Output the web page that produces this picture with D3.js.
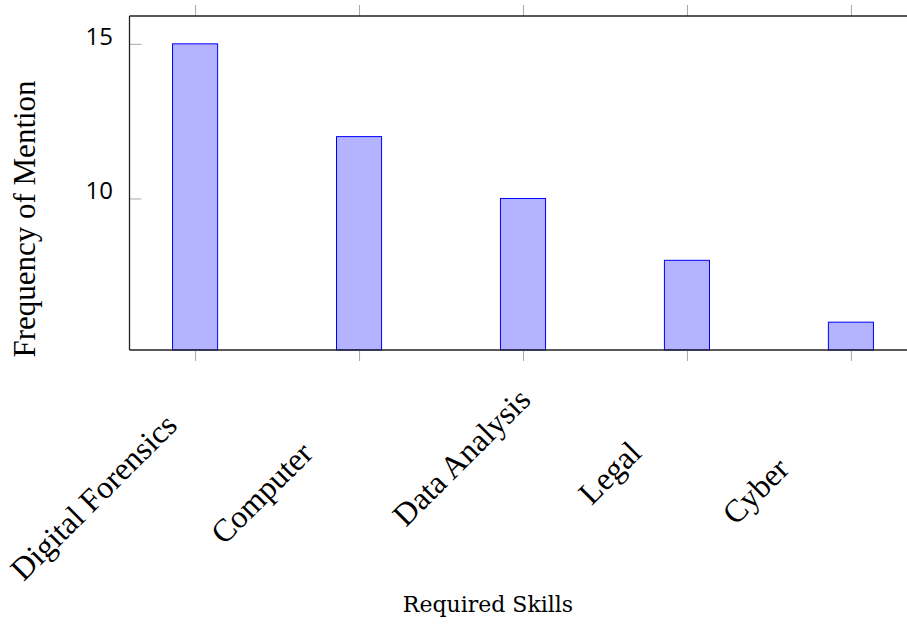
<!DOCTYPE html>
<html>
<head>
<meta charset="utf-8">
<script src="https://cdn.jsdelivr.net/npm/d3@7"></script>
<style>
  html, body { margin: 0; padding: 0; background: #fff; }
  svg { display: block; }
  .serif { font-family: "Liberation Serif", Tinos, "Times New Roman", Times, serif; }
  .title-serif { font-family: "DejaVu Serif", serif; }
  .num { font-family: "Open Sans", "Noto Sans", sans-serif; }
</style>
</head>
<body>
<svg id="chart" width="907" height="626"></svg>
<script>
// Skills named in the job postings and how often each was mentioned
const skills = ["Digital Forensics", "Computer", "Data Analysis", "Legal", "Cyber"];
const mentions = [15, 12, 10, 8, 6];
const yTickValues = [10, 15];
const xAxisTitle = "Required Skills";
const yAxisTitle = "Frequency of Mention";

// Layout
const W = 907, H = 626;
const plot = { left: 129.5, right: 916.5, top: 16, bottom: 350 };
// per-label slide along the rotated baseline
const labelSlide = [-66, -106, -30, -105, -128];

const svg = d3.select("#chart");

const x = d3.scalePoint()
  .domain(skills)
  .range([plot.left, plot.right])
  .padding(0.4);

const y = d3.scaleLinear()
  .domain([5.1, 15.9])
  .range([plot.bottom, plot.top]);

const barW = x.step() * 0.275;

// bars
svg.append("g")
  .selectAll("rect")
  .data(skills)
  .join("rect")
  .attr("x", d => x(d) - barW / 2)
  .attr("y", (d, i) => y(mentions[i]))
  .attr("width", barW)
  .attr("height", (d, i) => y(y.domain()[0]) - y(mentions[i]))
  .attr("fill", "#b3b3ff")
  .attr("stroke", "#0000ff")
  .attr("stroke-width", 1);

const tickColor = "#a8a8a8";

// x ticks, outside at the bottom and the top
const xBottom = d3.axisBottom(x).tickSize(11).tickFormat("");
const gxb = svg.append("g").attr("transform", `translate(0,${plot.bottom})`).call(xBottom);
gxb.select(".domain").remove();
gxb.selectAll(".tick line").attr("stroke", tickColor);

const xTop = d3.axisTop(x).tickSize(11).tickFormat("");
const gxt = svg.append("g").attr("transform", `translate(0,${plot.top})`).call(xTop);
gxt.select(".domain").remove();
gxt.selectAll(".tick line").attr("stroke", tickColor);

// y ticks, inside on the left
const yLeft = d3.axisLeft(y).tickValues(yTickValues).tickSize(-12).tickFormat("");
const gyl = svg.append("g").attr("transform", `translate(${plot.left},0)`).call(yLeft);
gyl.select(".domain").remove();
gyl.selectAll(".tick line").attr("stroke", tickColor);

// y tick labels
svg.append("g")
  .selectAll("text")
  .data(yTickValues)
  .join("text")
  .attr("class", "num")
  .attr("x", 113)
  .attr("y", d => y(d) + 1)
  .attr("text-anchor", "end")
  .attr("font-size", 24)
  .attr("fill", "#000")
  .text(d => d);

// axis frame lines: left, bottom, top
const frame = svg.append("g").attr("stroke", "#222").attr("stroke-width", 1.3).attr("fill", "none");
frame.append("line").attr("x1", plot.left).attr("x2", plot.left).attr("y1", plot.top).attr("y2", plot.bottom);
frame.append("line").attr("x1", plot.left).attr("x2", W).attr("y1", plot.bottom).attr("y2", plot.bottom);
frame.append("line").attr("x1", plot.left).attr("x2", W).attr("y1", plot.top).attr("y2", plot.top);

// rotated category labels
svg.append("g")
  .selectAll("text")
  .data(skills)
  .join("text")
  .attr("class", "serif")
  .attr("transform", d => `translate(${x(d)},${plot.bottom}) rotate(-45)`)
  .attr("x", (d, i) => labelSlide[i])
  .attr("y", 43)
  .attr("text-anchor", "end")
  .attr("font-size", 32)
  .attr("fill", "#000")
  .text(d => d);

// axis titles
svg.append("text")
  .attr("class", "title-serif")
  .attr("x", 488)
  .attr("y", 612)
  .attr("text-anchor", "middle")
  .attr("font-size", 22)
  .attr("fill", "#000")
  .text(xAxisTitle);

svg.append("text")
  .attr("class", "serif")
  .attr("transform", "translate(35,219) rotate(-90)")
  .attr("text-anchor", "middle")
  .attr("font-size", 31)
  .attr("fill", "#000")
  .text(yAxisTitle);
</script>
</body>
</html>
